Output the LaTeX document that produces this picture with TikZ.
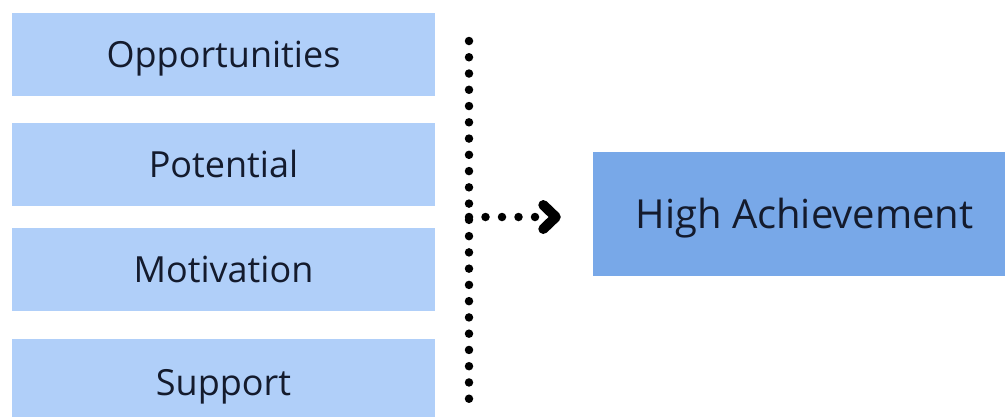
\documentclass[tikz,border=0pt]{standalone}
\usepackage{fontspec}
\setmainfont{Open Sans}
\definecolor{lightbox}{HTML}{B0CFF9}
\definecolor{darkbox}{HTML}{78A8E8}
\definecolor{txt}{HTML}{141B2D}
\begin{document}
\begin{tikzpicture}[x=1pt,y=-1pt,
  box/.style={fill=lightbox, draw=none, inner sep=0pt, minimum width=423pt, minimum height=83pt,
    text=txt, font=\fontsize{36}{40}\selectfont, text height=25.7pt, text depth=0pt},
  hibox/.style={fill=darkbox, draw=none, inner sep=0pt, minimum width=423pt, minimum height=124pt,
    text=txt, font=\fontsize{40}{44}\selectfont, text height=28.6pt, text depth=0pt},
  dotline/.style={line width=8.5pt, line cap=round, dash pattern=on 0pt off 16.26pt, black},
  chev/.style={line width=10pt, line cap=round, line join=round, black}]
\useasboundingbox (0,0) rectangle (1005,416);
\node[box] (opp) at (223.5,54.5) {Opportunities};
\node[box] (pot) at (223.5,164.5) {Potential};
\node[box] (mot) at (223.5,269.5) {Motivation};
\node[box, minimum height=88pt] (sup) at (223.5,383) {Support};
\node[hibox] (hi) at (804.5,214) {High Achievement};
\coordinate (vt) at (469,41);
\coordinate (vb) at (469,399);
\draw[dotline] (vt) -- (vb);
\coordinate (j) at (469,217);
\coordinate (tip) at ([xshift=-37pt]hi.west |- j);
\draw[dotline, dash pattern=on 0pt off 16.5pt] (j) -- ([xshift=-19pt]tip);
\draw[chev] ([shift={(-12.5,-12)}]tip) -- (tip) -- ([shift={(-12.5,12)}]tip);
\end{tikzpicture}
\end{document}
